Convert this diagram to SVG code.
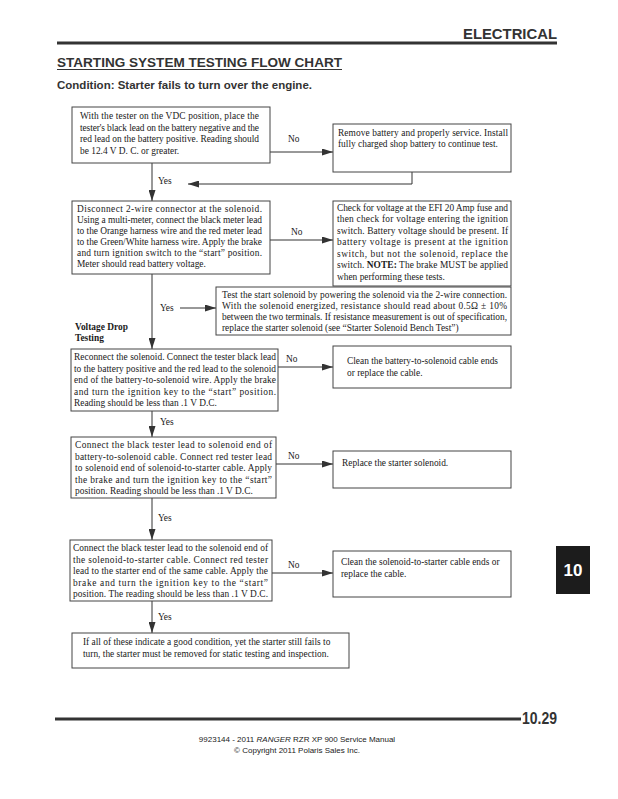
<svg xmlns="http://www.w3.org/2000/svg" width="618" height="799" viewBox="0 0 618 799">
<defs>
<marker id="ah" markerUnits="userSpaceOnUse" markerWidth="11" markerHeight="7" refX="11" refY="3.5" orient="auto">
<path d="M0,0 L11,3.5 L0,7 z" fill="#333"/>
</marker>
<style>
.bx{fill:#fff;stroke:#444;stroke-width:1}
.t{font-family:"Liberation Serif","Times New Roman",serif;font-size:9.4px;fill:#1a1a1a}
.lb{font-family:"Liberation Serif","Times New Roman",serif;font-size:9.4px;fill:#1a1a1a}
.b{font-weight:bold}
.hd{font-family:"Liberation Sans",Arial,sans-serif;font-weight:bold;fill:#333}
.cn{fill:none;stroke:#333;stroke-width:1}
.ft{font-family:"Liberation Sans",Arial,sans-serif;font-size:8px;fill:#222}
</style>
</defs>
<rect width="618" height="799" fill="#fff"/>

<g id="header">
<text class="hd" x="557" y="39" font-size="15" text-anchor="end" textLength="94" lengthAdjust="spacingAndGlyphs">ELECTRICAL</text>
<line x1="57" y1="43" x2="557" y2="43" stroke="#333" stroke-width="3"/>
<text class="hd" x="57" y="67" font-size="13.5" textLength="285" lengthAdjust="spacingAndGlyphs">STARTING SYSTEM TESTING FLOW CHART</text>
<line x1="57" y1="69.5" x2="342" y2="69.5" stroke="#333" stroke-width="1.2"/>
<text class="hd" x="57" y="89" font-size="11.5" textLength="255" lengthAdjust="spacingAndGlyphs">Condition: Starter fails to turn over the engine.</text>
</g>

<g id="connectors">
<line class="cn" x1="270" y1="152" x2="333" y2="152" marker-end="url(#ah)"/>
<path class="cn" d="M412,172 V184 H188" marker-end="url(#ah)"/>
<line class="cn" x1="152" y1="163" x2="152" y2="201" marker-end="url(#ah)"/>
<line class="cn" x1="270" y1="240" x2="333" y2="240" marker-end="url(#ah)"/>
<line class="cn" x1="152" y1="274" x2="152" y2="349" marker-end="url(#ah)"/>
<line class="cn" x1="180" y1="308" x2="216" y2="308" marker-end="url(#ah)"/>
<line class="cn" x1="278" y1="367" x2="333" y2="367" marker-end="url(#ah)"/>
<line class="cn" x1="152" y1="411" x2="152" y2="437" marker-end="url(#ah)"/>
<line class="cn" x1="276" y1="464" x2="333" y2="464" marker-end="url(#ah)"/>
<line class="cn" x1="152" y1="498" x2="152" y2="540" marker-end="url(#ah)"/>
<line class="cn" x1="272" y1="573" x2="333" y2="573" marker-end="url(#ah)"/>
<line class="cn" x1="152" y1="601" x2="152" y2="633" marker-end="url(#ah)"/>
<text class="lb" x="288" y="142">No</text>
<text class="lb" x="158" y="184">Yes</text>
<text class="lb" x="291" y="235">No</text>
<text class="lb" x="160" y="311">Yes</text>
<text class="lb" x="286" y="362">No</text>
<text class="lb" x="160" y="425">Yes</text>
<text class="lb" x="288" y="459">No</text>
<text class="lb" x="158" y="521">Yes</text>
<text class="lb" x="288" y="568">No</text>
<text class="lb" x="158" y="620">Yes</text>
</g>

<g id="n1">
<rect class="bx" x="72" y="107" width="198" height="56"/>
<text class="t" x="80" y="119" textLength="179" lengthAdjust="spacing">With the tester on the VDC position, place the</text>
<text class="t" x="80" y="130.5" textLength="179" lengthAdjust="spacing">tester's black lead on the battery negative and the</text>
<text class="t" x="80" y="142" textLength="179" lengthAdjust="spacing">red lead on the battery positive. Reading should</text>
<text class="t" x="80" y="153.5">be 12.4 V D. C. or greater.</text>
</g>

<g id="n2">
<rect class="bx" x="333" y="124" width="178" height="48"/>
<text class="t" x="338" y="135.5" textLength="170" lengthAdjust="spacing">Remove battery and properly service. Install</text>
<text class="t" x="338" y="147">fully charged shop battery to continue test.</text>
</g>

<g id="n3">
<rect class="bx" x="72" y="201" width="198" height="73"/>
<text class="t" x="77" y="211.5" textLength="185" lengthAdjust="spacing">Disconnect 2-wire connector at the solenoid.</text>
<text class="t" x="77" y="222.5" textLength="185" lengthAdjust="spacing">Using a multi-meter, connect the black meter lead</text>
<text class="t" x="77" y="233.5" textLength="185" lengthAdjust="spacing">to the Orange harness wire and the red meter lead</text>
<text class="t" x="77" y="244.5" textLength="185" lengthAdjust="spacing">to the Green/White harness wire. Apply the brake</text>
<text class="t" x="77" y="255.5" textLength="185" lengthAdjust="spacing">and turn ignition switch to the “start” position.</text>
<text class="t" x="77" y="266.5">Meter should read battery voltage.</text>
</g>

<g id="n4">
<rect class="bx" x="333" y="201" width="178" height="85"/>
<text class="t" x="337" y="210.5" textLength="171" lengthAdjust="spacing">Check for voltage at the EFI 20 Amp fuse and</text>
<text class="t" x="337" y="222" textLength="171" lengthAdjust="spacing">then check for voltage entering the ignition</text>
<text class="t" x="337" y="233.5" textLength="171" lengthAdjust="spacing">switch. Battery voltage should be present. If</text>
<text class="t" x="337" y="245" textLength="171" lengthAdjust="spacing">battery voltage is present at the ignition</text>
<text class="t" x="337" y="256.5" textLength="171" lengthAdjust="spacing">switch, but not the solenoid, replace the</text>
<text class="t" x="337" y="268" textLength="171" lengthAdjust="spacing">switch. <tspan class="b">NOTE:</tspan> The brake MUST be applied</text>
<text class="t" x="337" y="279.5">when performing these tests.</text>
</g>

<g id="n5">
<rect class="bx" x="216" y="287" width="295" height="48"/>
<text class="t" x="222" y="297.5" textLength="285" lengthAdjust="spacing">Test the start solenoid by powering the solenoid via the 2-wire connection.</text>
<text class="t" x="222" y="308.5" textLength="285" lengthAdjust="spacing">With the solenoid energized, resistance should read about 0.5Ω ± 10%</text>
<text class="t" x="222" y="319.5" textLength="285" lengthAdjust="spacing">between the two terminals. If resistance measurement is out of specification,</text>
<text class="t" x="222" y="330.5">replace the starter solenoid (see “Starter Solenoid Bench Test”)</text>
</g>

<g id="section-label">
<text class="t b" x="75" y="330">Voltage Drop</text>
<text class="t b" x="75" y="341">Testing</text>
</g>

<g id="n6">
<rect class="bx" x="71" y="349" width="207" height="62"/>
<text class="t" x="74" y="360" textLength="202" lengthAdjust="spacing">Reconnect the solenoid. Connect the tester black lead</text>
<text class="t" x="74" y="371.5" textLength="202" lengthAdjust="spacing">to the battery positive and the red lead to the solenoid</text>
<text class="t" x="74" y="383" textLength="202" lengthAdjust="spacing">end of the battery-to-solenoid wire. Apply the brake</text>
<text class="t" x="74" y="394.5" textLength="202" lengthAdjust="spacing">and turn the ignition key to the “start” position.</text>
<text class="t" x="74" y="406">Reading should be less than .1 V D.C.</text>
</g>

<g id="n7">
<rect class="bx" x="333" y="346" width="178" height="42"/>
<text class="t" x="347" y="364">Clean the battery-to-solenoid cable ends</text>
<text class="t" x="347" y="375.5">or replace the cable.</text>
</g>

<g id="n8">
<rect class="bx" x="71" y="437" width="205" height="61"/>
<text class="t" x="75" y="448" textLength="197" lengthAdjust="spacing">Connect the black tester lead to solenoid end of</text>
<text class="t" x="75" y="459.5" textLength="197" lengthAdjust="spacing">battery-to-solenoid cable. Connect red tester lead</text>
<text class="t" x="75" y="471" textLength="197" lengthAdjust="spacing">to solenoid end of solenoid-to-starter cable. Apply</text>
<text class="t" x="75" y="482.5" textLength="197" lengthAdjust="spacing">the brake and turn the ignition key to the “start”</text>
<text class="t" x="75" y="494">position. Reading should be less than .1 V D.C.</text>
</g>

<g id="n9">
<rect class="bx" x="333" y="451" width="178" height="37"/>
<text class="t" x="342" y="466">Replace the starter solenoid.</text>
</g>

<g id="n10">
<rect class="bx" x="70" y="540" width="202" height="61"/>
<text class="t" x="73" y="551" textLength="195" lengthAdjust="spacing">Connect the black tester lead to the solenoid end of</text>
<text class="t" x="73" y="562.5" textLength="195" lengthAdjust="spacing">the solenoid-to-starter cable. Connect red tester</text>
<text class="t" x="73" y="574" textLength="195" lengthAdjust="spacing">lead to the starter end of the same cable. Apply the</text>
<text class="t" x="73" y="585.5" textLength="195" lengthAdjust="spacing">brake and turn the ignition key to the “start”</text>
<text class="t" x="73" y="597" textLength="195" lengthAdjust="spacing">position. The reading should be less than .1 V D.C.</text>
</g>

<g id="n11">
<rect class="bx" x="333" y="551" width="178" height="46"/>
<text class="t" x="341" y="565">Clean the solenoid-to-starter cable ends or</text>
<text class="t" x="341" y="576.5">replace the cable.</text>
</g>

<g id="n12">
<rect class="bx" x="72" y="633" width="277" height="35"/>
<text class="t" x="83" y="645">If all of these indicate a good condition, yet the starter still fails to</text>
<text class="t" x="83" y="656.5">turn, the starter must be removed for static testing and inspection.</text>
</g>

<g id="tab">
<rect x="556" y="546" width="34" height="48" fill="#1c1c1c"/>
<text x="573" y="576" text-anchor="middle" font-family="'Liberation Sans',Arial,sans-serif" font-weight="bold" font-size="17" fill="#fff">10</text>
</g>

<g id="footer">
<line x1="55" y1="719" x2="521" y2="719" stroke="#333" stroke-width="3"/>
<text class="hd" x="522" y="724" font-size="16" fill="#222" textLength="35" lengthAdjust="spacingAndGlyphs">10.29</text>
<text class="ft" x="297" y="742" text-anchor="middle">9923144 - 2011 <tspan font-style="italic">RANGER</tspan> RZR XP 900 Service Manual</text>
<text class="ft" x="297" y="752.5" text-anchor="middle">© Copyright 2011 Polaris Sales Inc.</text>
</g>
</svg>
